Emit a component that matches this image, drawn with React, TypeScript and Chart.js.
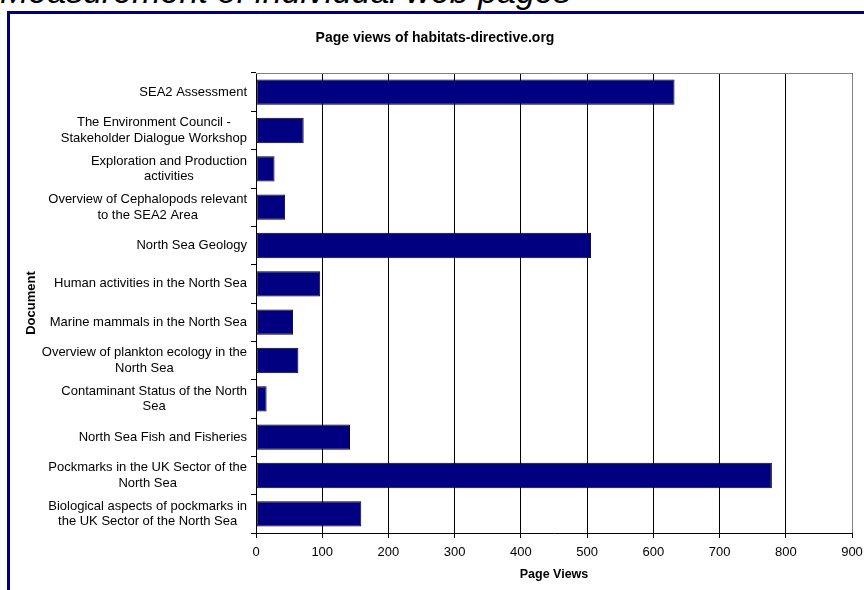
import React, { useEffect, useRef } from "react";
import { Chart, registerables } from "chart.js";

Chart.register(...registerables);

const categories: string[][] = [
  ["SEA2 Assessment"],
  ["The Environment Council -", "Stakeholder Dialogue Workshop"],
  ["Exploration and Production", "activities"],
  ["Overview of Cephalopods relevant", "to the SEA2 Area"],
  ["North Sea Geology"],
  ["Human activities in the North Sea"],
  ["Marine mammals in the North Sea"],
  ["Overview of plankton ecology in the", "North Sea"],
  ["Contaminant Status of the North", "Sea"],
  ["North Sea Fish and Fisheries"],
  ["Pockmarks in the UK Sector of the", "North Sea"],
  ["Biological aspects of pockmarks in", "the UK Sector of the North Sea"],
];

const pageViews: number[] = [632, 72, 28, 44, 506, 97, 56, 64, 16, 142, 779, 159];

const xTickValues: number[] = [0, 100, 200, 300, 400, 500, 600, 700, 800, 900];

const chartTitle = "Page views of habitats-directive.org";
const xAxisTitle = "Page Views";
const yAxisTitle = "Document";
const pageHeading = "Measurement of individual web pages";

const FONT = "'Liberation Sans', Arial, sans-serif";

export default function App() {
  const ref = useRef<HTMLCanvasElement>(null);

  useEffect(() => {
    document.body.style.margin = "0";
    const canvas = ref.current;
    if (!canvas) return;

    const textPlugin = {
      id: "customText",
      afterDraw(chart: any) {
        const ctx = chart.ctx;
        const a = chart.chartArea;
        const ys = chart.scales.y;
        ctx.save();
        ctx.strokeStyle = "#808080";
        ctx.lineWidth = 1;
        ctx.beginPath();
        ctx.moveTo(a.left, Math.round(a.top) + 0.5);
        ctx.lineTo(Math.round(a.right) + 0.5, Math.round(a.top) + 0.5);
        ctx.lineTo(Math.round(a.right) + 0.5, a.bottom);
        ctx.stroke();

        ctx.fillStyle = "#000";
        ctx.font = `13px ${FONT}`;
        ctx.textAlign = "center";
        ctx.textBaseline = "middle";
        const lh = 15.6;
        categories.forEach((lines, i) => {
          const cy = ys.getPixelForValue(i);
          const maxW = Math.max(...lines.map((l) => ctx.measureText(l).width));
          const cx = 247 - maxW / 2;
          lines.forEach((l, j) => {
            ctx.fillText(l, cx, cy + (j - (lines.length - 1) / 2) * lh);
          });
        });

        ctx.font = `bold 14px ${FONT}`;
        ctx.fillText(chartTitle, 435, 38);
        ctx.font = `bold 12.5px ${FONT}`;
        ctx.fillText(xAxisTitle, (a.left + a.right) / 2, 575);
        ctx.save();
        ctx.translate(31, (a.top + a.bottom) / 2);
        ctx.rotate(-Math.PI / 2);
        ctx.font = `bold 13px ${FONT}`;
        ctx.fillText(yAxisTitle, 0, 0);
        ctx.restore();
        ctx.restore();
      },
    };

    const chart = new Chart(canvas, {
      type: "bar",
      data: {
        labels: categories.map((c) => c.join(" ")),
        datasets: [
          {
            data: pageViews,
            backgroundColor: "#000080",
            borderColor: "#000000",
            borderWidth: 1,
            borderSkipped: false,
            categoryPercentage: 1,
            barPercentage: 0.66,
          },
        ],
      },
      options: {
        indexAxis: "y",
        responsive: false,
        animation: false,
        devicePixelRatio: 1,
        layout: { padding: { left: 0, right: 12, top: 73, bottom: 0 } },
        plugins: {
          legend: { display: false },
          tooltip: { enabled: false },
          title: { display: false },
        },
        scales: {
          x: {
            min: 0,
            max: 900,
            afterFit(scale: any) {
              scale.height = 57;
              scale.paddingRight = 0;
              scale.paddingLeft = 0;
            },
            afterBuildTicks(scale: any) {
              scale.ticks = xTickValues.map((v) => ({ value: v }));
            },
            ticks: {
              color: "#000",
              font: { family: FONT, size: 13 },
              padding: 7,
              maxRotation: 0,
            },
            grid: {
              color: "#000",
              lineWidth: 1,
              drawTicks: true,
              tickLength: 5,
            },
            border: { display: true, color: "#000", width: 1 },
          },
          y: {
            afterFit(scale: any) {
              scale.width = 256;
            },
            ticks: { display: false },
            grid: {
              display: true,
              drawOnChartArea: false,
              offset: true,
              drawTicks: true,
              tickLength: 5,
              color: "#000",
            },
            border: { display: true, color: "#000", width: 1 },
          },
        },
      },
      plugins: [textPlugin],
    } as any);

    return () => chart.destroy();
  }, []);

  return (
    <div
      style={{
        position: "relative",
        width: 864,
        height: 590,
        overflow: "hidden",
        background: "#fff",
      }}
    >
      <div
        style={{
          position: "absolute",
          left: 0,
          top: -27,
          font: `italic 34px ${FONT}`,
          lineHeight: "36px",
          whiteSpace: "nowrap",
          color: "#000",
        }}
      >
        {pageHeading}
      </div>
      <div
        style={{
          position: "absolute",
          left: 7,
          top: 11,
          width: 900,
          height: 700,
          borderLeft: "3px solid #000080",
          borderTop: "3px solid #000080",
        }}
      />
      <canvas
        ref={ref}
        width={864}
        height={590}
        style={{ position: "absolute", left: 0, top: 0, width: 864, height: 590 }}
      />
    </div>
  );
}
